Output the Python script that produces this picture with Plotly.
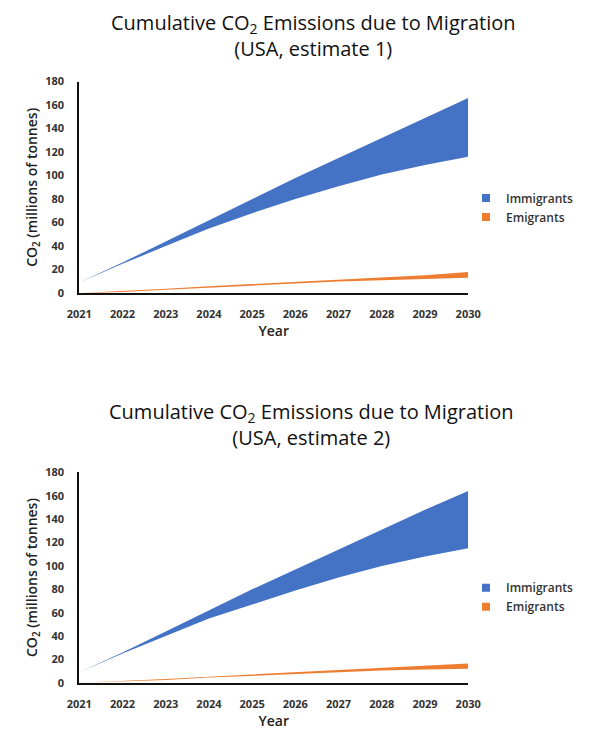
import plotly.graph_objects as go

years = [2021, 2022, 2023, 2024, 2025, 2026, 2027, 2028, 2029, 2030]

# Estimate 1
imm1_low = [9, 25, 40, 55, 68, 80, 91, 101, 109, 116]
imm1_high = [9, 26, 44, 62, 80, 98, 115, 132, 149, 166]
emi1_low = [0, 1, 2.8, 4.8, 6.5, 8.2, 9.8, 11, 12, 13]
emi1_high = [0, 1.6, 3.8, 5.8, 7.8, 9.5, 11.5, 13.3, 15.3, 18]

# Estimate 2
imm2_low = [9, 25, 40, 55, 67, 79, 90, 100, 108, 115]
imm2_high = [9, 26, 44, 62, 80, 97, 114, 131, 148, 164]
emi2_low = [0, 1, 2.5, 4.5, 6, 7.8, 9.3, 10.5, 11.5, 12]
emi2_high = [0, 1.5, 3.2, 5.3, 7.2, 9.2, 11.2, 13.2, 15, 16.5]

BLUE = "#4472C4"
ORANGE = "#ED7D31"
FONT = "Open Sans"

W, H = 584, 722   # page body adds an 8px margin

def px(x):   # screen x -> paper
    return (x - 8) / W

def py(y):   # screen y -> paper
    return 1 - (y - 8) / H

fig = go.Figure()

def add_band(low, high, color, xa, ya):
    fig.add_trace(go.Scatter(x=years, y=low, mode="lines", line=dict(width=0, color=color),
                             showlegend=False, hoverinfo="skip", xaxis=xa, yaxis=ya))
    fig.add_trace(go.Scatter(x=years, y=high, mode="lines", line=dict(width=0, color=color),
                             fill="tonexty", fillcolor=color, showlegend=False,
                             xaxis=xa, yaxis=ya))

def add_legend_item(name, color, legend, xa, ya):
    fig.add_trace(go.Scatter(x=[None], y=[None], mode="markers", name=name,
                             legendgroup=legend + name,
                             marker=dict(symbol="square", size=8, color=color),
                             legend=legend, xaxis=xa, yaxis=ya))

add_band(imm1_low, imm1_high, BLUE, "x", "y")
add_band(emi1_low, emi1_high, ORANGE, "x", "y")
add_band(imm2_low, imm2_high, BLUE, "x2", "y2")
add_band(emi2_low, emi2_high, ORANGE, "x2", "y2")
add_legend_item("Immigrants", BLUE, "legend", "x", "y")
add_legend_item("Emigrants", ORANGE, "legend", "x", "y")
add_legend_item("Immigrants", BLUE, "legend2", "x2", "y2")
add_legend_item("Emigrants", ORANGE, "legend2", "x2", "y2")

xdom = [px(69), px(476)]
ydom1 = [py(291), py(75)]
ydom2 = [py(689), py(474)]

tickfont = dict(family=FONT, size=11, color="#333333", weight="bold")
titlefont = dict(family=FONT, size=14, color="#222222", weight=600)

axis_common_x = dict(range=[2021, 2030], tickvals=years, showgrid=False, zeroline=False,
                     showline=True, linecolor="#111111", linewidth=2,
                     ticks="outside", ticklen=10, tickcolor="rgba(0,0,0,0)",
                     tickfont=tickfont,
                     title=dict(text="Year", font=titlefont, standoff=4))
axis_common_y = dict(range=[0, 180], tickvals=list(range(0, 181, 20)), showgrid=False, zeroline=False,
                     showline=True, linecolor="#111111", linewidth=2,
                     ticks="outside", ticklen=11, tickcolor="rgba(0,0,0,0)",
                     tickfont=tickfont,
                     title=dict(text="CO<sub>2</sub> (millions of tonnes)", font=titlefont, standoff=4))

legend_common = dict(xanchor="right", yanchor="top", traceorder="normal",
                     font=dict(family=FONT, size=12, color="#333333", weight=600),
                     bgcolor="rgba(0,0,0,0)", itemwidth=30, tracegroupgap=8)

fig.update_layout(
    width=W, height=H,
    margin=dict(l=0, r=0, t=0, b=0),
    paper_bgcolor="white", plot_bgcolor="white",
    font=dict(family=FONT),
    xaxis=dict(domain=xdom, anchor="y", **axis_common_x),
    yaxis=dict(domain=ydom1, anchor="x", **axis_common_y),
    xaxis2=dict(domain=xdom, anchor="y2", **axis_common_x),
    yaxis2=dict(domain=ydom2, anchor="x2", **axis_common_y),
    legend=dict(x=1, y=py(179), **legend_common),
    legend2=dict(x=1, y=py(577), **legend_common),
    annotations=[
        dict(text="Cumulative CO<sub>2</sub> Emissions due to Migration<br>(USA, estimate 1)",
             x=px(314), y=py(-1), xref="paper", yref="paper", xanchor="center", yanchor="top",
             showarrow=False, font=dict(family=FONT, size=20, color="#111111")),
        dict(text="Cumulative CO<sub>2</sub> Emissions due to Migration<br>(USA, estimate 2)",
             x=px(312), y=py(396), xref="paper", yref="paper", xanchor="center", yanchor="top",
             showarrow=False, font=dict(family=FONT, size=20, color="#111111")),
    ],
)

fig.write_html("out.html")
